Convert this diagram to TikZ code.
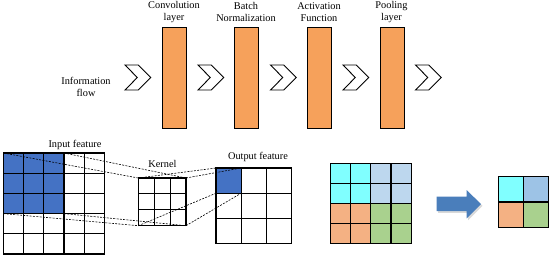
\documentclass[tikz,border=0pt]{standalone}
\usepackage{fontspec}
\setmainfont{Liberation Serif}
\definecolor{barorange}{RGB}{246,161,91}
\definecolor{cellblue}{RGB}{68,114,196}
\definecolor{pcyan}{RGB}{128,255,255}
\definecolor{plblue}{RGB}{189,215,238}
\definecolor{pmblue}{RGB}{157,195,230}
\definecolor{porange}{RGB}{244,177,131}
\definecolor{pgreen}{RGB}{169,209,142}
\definecolor{arrowblue}{RGB}{74,126,187}
\tikzset{
  lbl/.style={align=center,inner sep=0pt,font=\fontsize{10.3}{12}\selectfont},
  bar/.style={draw=black,line width=1pt,fill=barorange,minimum width=24pt,minimum height=101pt,inner sep=0pt,anchor=north west},
  chev/.style={draw=black,line width=0.9pt,fill=white,line join=miter},
  gridline/.style={draw=black,line width=1.1pt,line cap=rect},
  conn/.style={draw=black,line width=0.6pt,dash pattern=on 2pt off 1.3pt}
}
\begin{document}
\begin{tikzpicture}[x=1pt,y=-1pt]
\useasboundingbox (0,0) rectangle (552,258);
% top labels
\node[lbl] (tinfo) at (86,87) {Information\\flow};
\node[lbl] (tconv) at (174,12) {Convolution\\layer};
\node[lbl] (tbn) at (246,12) {Batch\\Normalization};
\node[lbl] (tact) at (319,12) {Activation\\Function};
\node[lbl] (tpool) at (391.5,12) {Pooling\\layer};
% bars
\node[bar] (bconv) at (162,27) {};
\node[bar] (bbn) at (234,27) {};
\node[bar] (bact) at (307,27) {};
\node[bar] (bpool) at (379.5,27) {};
% chevrons
\foreach \cx [count=\k] in {125,198,270.5,343,415.5}{
  \draw[chev] (\cx,65) -- ++(13.3,0) -- ++(12.4,12.5) -- ++(-12.4,12.5) -- ++(-13.3,0) -- ++(12.3,-12.5) -- cycle;
}
% input feature grid 5x5
\node[lbl] (tin) at (75,145) {Input feature};
\begin{scope}[shift={(3.4,153)}]
  \fill[cellblue] (0,0) rectangle (60.6,60.6);
  \foreach \i in {0,...,5}{
    \draw[gridline] (\i*20.2,0) -- (\i*20.2,101);
    \draw[gridline] (0,\i*20.2) -- (101,\i*20.2);
  }
\end{scope}
% kernel 3x3
\node[lbl] (tker) at (162.5,163.5) {Kernel};
\begin{scope}[shift={(138.3,178)}]
  \foreach \i in {0,...,3}{
    \draw[gridline] (\i*15.9,0) -- (\i*15.9,47.7);
    \draw[gridline] (0,\i*15.9) -- (47.7,\i*15.9);
  }
\end{scope}
% output feature 3x3
\node[lbl] (tout) at (258,156.5) {Output feature};
\begin{scope}[shift={(216,168)}]
  \fill[cellblue] (0,0) rectangle (25.2,25.2);
  \foreach \i in {0,...,3}{
    \draw[gridline] (\i*25.2,0) -- (\i*25.2,75.6);
    \draw[gridline] (0,\i*25.2) -- (75.6,\i*25.2);
  }
\end{scope}
% corner coordinates
\coordinate (inTL) at (3.4,153);
\coordinate (inTR) at (64,153);
\coordinate (inBL) at (3.4,213.6);
\coordinate (inBR) at (64,213.6);
\coordinate (kTL) at (138.3,178);
\coordinate (kTR) at (186,178);
\coordinate (kBL) at (138.3,225.7);
\coordinate (kBR) at (186,225.7);
\coordinate (oTL) at (216,168);
\coordinate (oTR) at (241.2,168);
\coordinate (oBL) at (216,193.2);
\coordinate (oBR) at (241.2,193.2);
\draw[conn] (inTL) -- (kTL);
\draw[conn] (inTR) -- (kTR);
\draw[conn] (inBL) -- (kBL);
\draw[conn] (inBR) -- (kBR);
\draw[conn] (kTL) -- (oTL);
\draw[conn] (kTR) -- (oTR);
\draw[conn] (kBL) -- (oBL);
\draw[conn] (kBR) -- (oBR);
% pooling 4x4
\begin{scope}[shift={(330.7,163.3)}]
  \fill[pcyan] (0,0) rectangle (40.2,40.2);
  \fill[plblue] (40.2,0) rectangle (80.4,40.2);
  \fill[porange] (0,40.2) rectangle (40.2,80.4);
  \fill[pgreen] (40.2,40.2) rectangle (80.4,80.4);
  \foreach \i in {0,...,4}{
    \draw[gridline] (\i*20.1,0) -- (\i*20.1,80.4);
    \draw[gridline] (0,\i*20.1) -- (80.4,\i*20.1);
  }
\end{scope}
% arrow
\fill[black,opacity=0.15] (438.2,198.5) -- (468.2,198.5) -- (468.2,191.8) -- (482.5,205.8) -- (468.2,220.1) -- (468.2,212.8) -- (438.2,212.8) -- cycle;
\fill[arrowblue] (436.7,196.7) -- (466.7,196.7) -- (466.7,190) -- (481,204.2) -- (466.7,218.4) -- (466.7,211.2) -- (436.7,211.2) -- cycle;
% pooled 2x2
\begin{scope}[shift={(498.3,176.7)}]
  \fill[pcyan] (0,0) rectangle (25.3,25.3);
  \fill[pmblue] (25.3,0) rectangle (50.6,25.3);
  \fill[porange] (0,25.3) rectangle (25.3,50.6);
  \fill[pgreen] (25.3,25.3) rectangle (50.6,50.6);
  \foreach \i in {0,...,2}{
    \draw[gridline] (\i*25.3,0) -- (\i*25.3,50.6);
    \draw[gridline] (0,\i*25.3) -- (50.6,\i*25.3);
  }
\end{scope}
\end{tikzpicture}
\end{document}
